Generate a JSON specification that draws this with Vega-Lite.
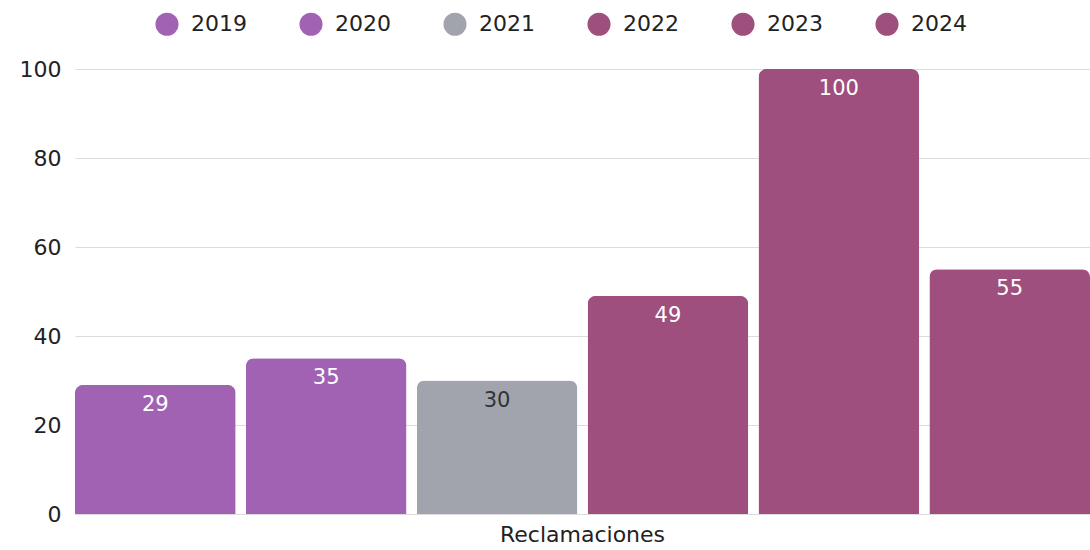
{
  "$schema": "https://vega.github.io/schema/vega-lite/v6.json",
  "width": 1015,
  "height": 445,
  "autosize": {"type": "none"},
  "padding": {"left": 75, "top": 69, "right": 0, "bottom": 36},
  "background": "white",
  "config": {"font": "DejaVu Sans", "view": {"stroke": null}},
  "data": {
    "values": [
      {"category": "Reclamaciones", "year": "2019", "value": 29},
      {"category": "Reclamaciones", "year": "2020", "value": 35},
      {"category": "Reclamaciones", "year": "2021", "value": 30},
      {"category": "Reclamaciones", "year": "2022", "value": 49},
      {"category": "Reclamaciones", "year": "2023", "value": 100},
      {"category": "Reclamaciones", "year": "2024", "value": 55}
    ]
  },
  "encoding": {
    "x": {
      "field": "category", "type": "nominal",
      "scale": {"paddingInner": 0, "paddingOuter": 0},
      "axis": {"title": null, "labelAngle": 0, "domain": false, "ticks": false, "labelFontSize": 22, "labelColor": "#222", "labelPadding": 10}
    },
    "xOffset": {
      "field": "year", "type": "nominal",
      "scale": {"paddingInner": 0.06, "paddingOuter": 0}
    },
    "y": {
      "field": "value", "type": "quantitative",
      "scale": {"domain": [0, 100]},
      "axis": {"title": null, "values": [0, 20, 40, 60, 80, 100], "domain": false, "ticks": false, "labelFontSize": 22, "labelPadding": 14, "gridColor": "#dcdcdc", "labelColor": "#222"}
    }
  },
  "layer": [
    {
      "mark": {"type": "bar", "cornerRadiusTopLeft": 8, "cornerRadiusTopRight": 8},
      "encoding": {
        "color": {
          "field": "year", "type": "nominal",
          "scale": {"domain": ["2019", "2020", "2021", "2022", "2023", "2024"], "range": ["#a162b4", "#a162b4", "#a1a4ac", "#9e4f7e", "#9e4f7e", "#9e4f7e"]},
          "legend": {"title": null, "orient": "none", "direction": "horizontal", "legendX": 80, "legendY": -57, "padding": 0, "symbolType": "circle", "symbolSize": 530, "symbolStrokeWidth": 0, "symbolOpacity": 1, "labelFontSize": 22, "labelColor": "#222", "labelOffset": 12, "columnPadding": 52}
        }
      }
    },
    {
      "mark": {"type": "text", "baseline": "middle", "dy": 20, "fontSize": 21},
      "encoding": {
        "text": {"field": "value", "type": "quantitative"},
        "color": {"condition": {"test": "datum.year === '2021'", "value": "#333333"}, "value": "white"}
      }
    }
  ]
}
